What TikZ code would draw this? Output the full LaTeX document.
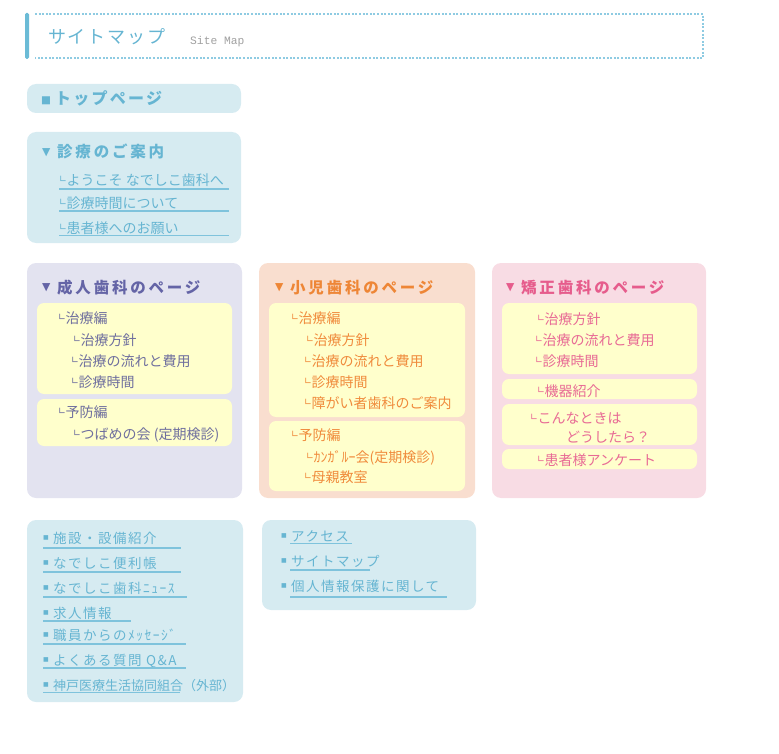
\documentclass[tikz,border=0pt]{standalone}
\usepackage{fontspec}
\setmainfont{Noto Sans CJK JP}
\newfontfamily\djv{DejaVu Sans}
\newfontfamily\lmono{Liberation Mono}
\definecolor{bfill}{HTML}{D6EBF1}
\definecolor{btext}{HTML}{66B5D2}
\definecolor{bline}{HTML}{7FC3DC}
\definecolor{lfill}{HTML}{E3E3F0}
\definecolor{ltext}{HTML}{6464A6}
\definecolor{litem}{HTML}{6F6F9E}
\definecolor{yel}{HTML}{FFFFCC}
\definecolor{pfill}{HTML}{F9DECF}
\definecolor{otext}{HTML}{EE8636}
\definecolor{oitem}{HTML}{F08B3C}
\definecolor{kfill}{HTML}{F8DCE4}
\definecolor{ktext}{HTML}{E65C8C}
\definecolor{kitem}{HTML}{E86A95}
\definecolor{hbar}{HTML}{6BBBD6}
\definecolor{hdot}{HTML}{8ECBE2}
\definecolor{hsubc}{HTML}{A0A0A0}
\newcommand\fsz[1]{\fontsize{#1}{#1}\selectfont}
\newcommand\mk{\makebox[7.5pt][l]{\raisebox{2.4pt}{\djv\fsz{9.5}∟}}}
\newcommand\tri{\makebox[15pt][l]{\raisebox{2.6pt}{\djv\fsz{10.8}▼}}}
\newcommand\sqb[3]{\makebox[#1][l]{\raisebox{#2}{\djv\fsz{#3}■}}}
\begin{document}
\begin{tikzpicture}[x=1pt,y=-1pt,
  bx/.style={fill=#1, rounded corners=9pt},
  ib/.style={fill=yel, rounded corners=7pt},
  it/.style={anchor=base west, inner sep=0pt, font=\fsz{14}},
  bt/.style={anchor=base west, inner sep=0pt, font=\fsz{13.5}\addfontfeature{LetterSpace=11}, text=btext},
  tt/.style={anchor=base west, inner sep=0pt, font=\fsz{15.5}\bfseries\addfontfeature{LetterSpace=18}},
  ul/.style={draw=bline, line width=1.1pt},
]
\useasboundingbox (0,0) rectangle (779,754);
% header
\fill[hbar, rounded corners=1.5pt] (25,13) rectangle (29,59);
\draw[hdot, line width=1.2pt, dash pattern=on 2pt off 1.6pt] (35,14) -- (703,14) -- (703,58) -- (35,58);
\node[anchor=base west, inner sep=0pt, text=btext, font=\fsz{18}\addfontfeature{LetterSpace=10}] (hdr) at (48,44) {サイトマップ};
\node[anchor=base west, inner sep=0pt, text=hsubc, font=\lmono\fsz{11.3}] (hsub) at (190,45) {Site Map};
% top page
\fill[bx=bfill] (27,84) rectangle (241,113);
\node[tt, text=btext, font=\fsz{16}\bfseries\addfontfeature{LetterSpace=14}] (top) at (41,105) {\sqb{14pt}{1.6pt}{10.5}トップページ};
% shinryo
\fill[bx=bfill] (27,132) rectangle (241,243);
\node[tt, text=btext] (ann) at (42,158) {\tri 診療のご案内};
\node[it, text=btext] (ann1) at (59,185.3) {\mk ようこそ なでしこ歯科へ};
\node[it, text=btext] (ann2) at (59,208.3) {\mk 診療時間について};
\node[it, text=btext] (ann3) at (59,233.3) {\mk 患者様へのお願い};
\draw[ul] (59,189) -- (229,189);
\draw[ul] (59,211) -- (229,211);
\draw[ul] (59,235.5) -- (229,235.5);
% adult
\fill[bx=lfill] (27,263) rectangle (242,498);
\fill[ib] (37,303) rectangle (232,394);
\fill[ib] (37,399) rectangle (232,446);
\node[tt, text=ltext] (ad) at (42,293) {\tri 成人歯科のページ};
\node[it, text=litem] (ad1) at (58,323.3) {\mk 治療編};
\node[it, text=litem] (ad2) at (73,345.3) {\mk 治療方針};
\node[it, text=litem] (ad3) at (71,366.3) {\mk 治療の流れと費用};
\node[it, text=litem] (ad4) at (71,387.3) {\mk 診療時間};
\node[it, text=litem] (ad5) at (58,417.3) {\mk 予防編};
\node[it, text=litem] (ad6) at (73,439.3) {\mk つばめの会 (定期検診)};
% child
\fill[bx=pfill] (259,263) rectangle (475,498);
\fill[ib] (269,303) rectangle (465,417);
\fill[ib] (269,421) rectangle (465,491);
\node[tt, text=otext] (ch) at (275,293) {\tri 小児歯科のページ};
\node[it, text=oitem] (ch1) at (291,323.3) {\mk 治療編};
\node[it, text=oitem] (ch2) at (306,345.3) {\mk 治療方針};
\node[it, text=oitem] (ch3) at (304,366.3) {\mk 治療の流れと費用};
\node[it, text=oitem] (ch4) at (304,387.3) {\mk 診療時間};
\node[it, text=oitem] (ch5) at (304,408.3) {\mk 障がい者歯科のご案内};
\node[it, text=oitem] (ch6) at (291,440.3) {\mk 予防編};
\node[it, text=oitem] (ch7) at (306,462.3) {\mk ｶﾝｶﾞﾙｰ会(定期検診)};
\node[it, text=oitem] (ch8) at (304,482.3) {\mk 母親教室};
% ortho
\fill[bx=kfill] (492,263) rectangle (706,498);
\fill[ib] (502,303) rectangle (697,374);
\fill[ib] (502,379) rectangle (697,399);
\fill[ib] (502,404) rectangle (697,445);
\fill[ib] (502,449) rectangle (697,469);
\node[tt, text=ktext] (or) at (506,293) {\tri 矯正歯科のページ};
\node[it, text=kitem] (or1) at (537,324.3) {\mk 治療方針};
\node[it, text=kitem] (or2) at (535,345.3) {\mk 治療の流れと費用};
\node[it, text=kitem] (or3) at (535,366.3) {\mk 診療時間};
\node[it, text=kitem] (or4) at (537,396.3) {\mk 機器紹介};
\node[it, text=kitem] (or5) at (530,423.3) {\mk こんなときは};
\node[it, text=kitem] (or6) at (566,442.3) {どうしたら？};
\node[it, text=kitem] (or7) at (537,465.3) {\mk 患者様アンケート};
% bottom left
\fill[bx=bfill] (27,520) rectangle (243,702);
\node[bt] (b1) at (43,543) {\sqb{10pt}{3.2pt}{6}施設・設備紹介};
\node[bt] (b2) at (43,568) {\sqb{10pt}{3.2pt}{6}なでしこ便利帳};
\node[bt] (b3) at (43,593) {\sqb{10pt}{3.2pt}{6}なでしこ歯科ﾆｭｰｽ};
\node[bt] (b4) at (43,618) {\sqb{10pt}{3.2pt}{6}求人情報};
\node[bt] (b5) at (43,640) {\sqb{10pt}{3.2pt}{6}職員からのﾒｯｾｰｼﾞ};
\node[bt] (b6) at (43,665) {\sqb{10pt}{3.2pt}{6}よくある質問 Q\&A};
\node[bt, font=\fsz{13}] (b7) at (43,690) {\sqb{10pt}{3.2pt}{6}神戸医療生活協同組合（外部）};
\draw[ul] (43,548) -- (181,548);
\draw[ul] (43,572) -- (181,572);
\draw[ul] (43,597) -- (187,597);
\draw[ul] (43,621) -- (131,621);
\draw[ul] (43,644) -- (186,644);
\draw[ul] (43,668) -- (186,668);
\draw[ul] (43,692.5) -- (180,692.5);
% bottom middle
\fill[bx=bfill] (262,520) rectangle (476,610);
\node[bt] (m1) at (281,541) {\sqb{10pt}{3.2pt}{6}アクセス};
\node[bt] (m2) at (281,566) {\sqb{10pt}{3.2pt}{6}サイトマップ};
\node[bt] (m3) at (281,591) {\sqb{10pt}{3.2pt}{6}個人情報保護に関して};
\draw[ul] (290,543.5) -- (352,543.5);
\draw[ul] (290,570) -- (370,570);
\draw[ul] (290,597) -- (447,597);
\end{tikzpicture}
\end{document}
